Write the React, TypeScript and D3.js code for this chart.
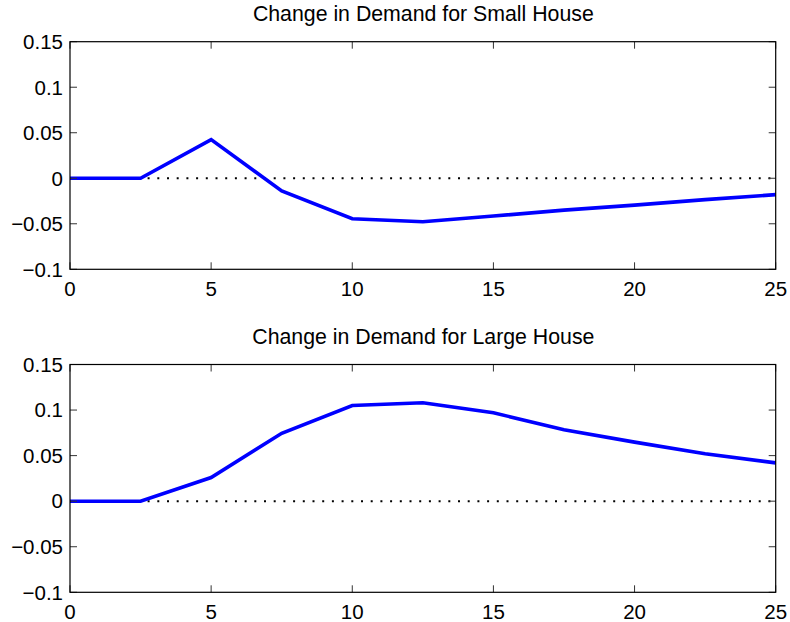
import React, { useEffect, useRef } from "react";
import * as d3 from "d3";

const periods = [0, 2.5, 5, 7.5, 10, 12.5, 15, 17.5, 20, 22.5, 25];
const smallHouse = [0, 0, 0.0425, -0.014, -0.0445, -0.0478, -0.0415, -0.035, -0.0295, -0.0235, -0.018];
const largeHouse = [0, 0, 0.026, 0.0745, 0.105, 0.108, 0.097, 0.0785, 0.0648, 0.052, 0.042];
const xTicks = [0, 5, 10, 15, 20, 25];
const yTicks = [-0.1, -0.05, 0, 0.05, 0.1, 0.15];
const yTickLabels = ["\u22120.1", "\u22120.05", "0", "0.05", "0.1", "0.15"];
const titles = ["Change in Demand for Small House", "Change in Demand for Large House"];

const W = 790;
const H = 622;
const left = 70;
const right = 775.7;
const panels = [
  { top: 41.7, bottom: 269.3 },
  { top: 364.5, bottom: 592.3 },
];

export default function App() {
  const ref = useRef<SVGSVGElement>(null);
  useEffect(() => {
    const svg = d3.select(ref.current);
    svg.selectAll("*").remove();
    const font = "Liberation Sans, Arial, Helvetica, sans-serif";
    const fs = 20.5;
    const seriesList = [smallHouse, largeHouse];
    panels.forEach((p, i) => {
      const x = d3.scaleLinear().domain([0, 25]).range([left, right]);
      const y = d3.scaleLinear().domain([-0.1, 0.15]).range([p.bottom, p.top]);
      const g = svg.append("g");
      g.append("rect")
        .attr("x", left)
        .attr("y", p.top)
        .attr("width", right - left)
        .attr("height", p.bottom - p.top)
        .attr("fill", "white");

      g.append("line")
        .attr("x1", x(0))
        .attr("x2", x(25))
        .attr("y1", y(0))
        .attr("y2", y(0))
        .attr("stroke", "black")
        .attr("stroke-width", 2)
        .attr("stroke-dasharray", "2 7.7");

      const data = seriesList[i];
      const line = d3
        .line<number>()
        .x((_, k) => x(periods[k]))
        .y((d) => y(d));
      g.append("path")
        .attr("d", line(data) as string)
        .attr("fill", "none")
        .attr("stroke", "#0000ff")
        .attr("stroke-width", 3.6)
        .attr("stroke-linejoin", "miter");

      const tl = 7;
      xTicks.forEach((t) => {
        const xx = x(t);
        g.append("line").attr("x1", xx).attr("x2", xx).attr("y1", p.bottom).attr("y2", p.bottom - tl).attr("stroke", "#333").attr("stroke-width", 1);
        g.append("line").attr("x1", xx).attr("x2", xx).attr("y1", p.top).attr("y2", p.top + tl).attr("stroke", "#333").attr("stroke-width", 1);
        g.append("text")
          .attr("x", xx)
          .attr("y", p.bottom + 27)
          .attr("text-anchor", "middle")
          .attr("font-family", font)
          .attr("font-size", fs)
          .text(String(t));
      });
      yTicks.forEach((t, k) => {
        const yy = y(t);
        g.append("line").attr("x1", left).attr("x2", left + tl).attr("y1", yy).attr("y2", yy).attr("stroke", "#333").attr("stroke-width", 1);
        g.append("line").attr("x1", right).attr("x2", right - tl).attr("y1", yy).attr("y2", yy).attr("stroke", "#333").attr("stroke-width", 1);
        g.append("text")
          .attr("x", left - 7)
          .attr("y", yy + 7.3)
          .attr("text-anchor", "end")
          .attr("font-family", font)
          .attr("font-size", fs)
          .text(yTickLabels[k]);
      });

      g.append("rect")
        .attr("x", left)
        .attr("y", p.top)
        .attr("width", right - left)
        .attr("height", p.bottom - p.top)
        .attr("fill", "none")
        .attr("stroke", "black")
        .attr("stroke-width", 1.2);

      g.append("text")
        .attr("x", (left + right) / 2 + 0.5)
        .attr("y", p.top - 21)
        .attr("text-anchor", "middle")
        .attr("font-family", font)
        .attr("font-size", 21.3)
        .text(titles[i]);
    });
  }, []);
  return (
    <svg
      ref={ref}
      width={W}
      height={H}
      style={{ position: "absolute", left: 0, top: 0, background: "white" }}
    />
  );
}
